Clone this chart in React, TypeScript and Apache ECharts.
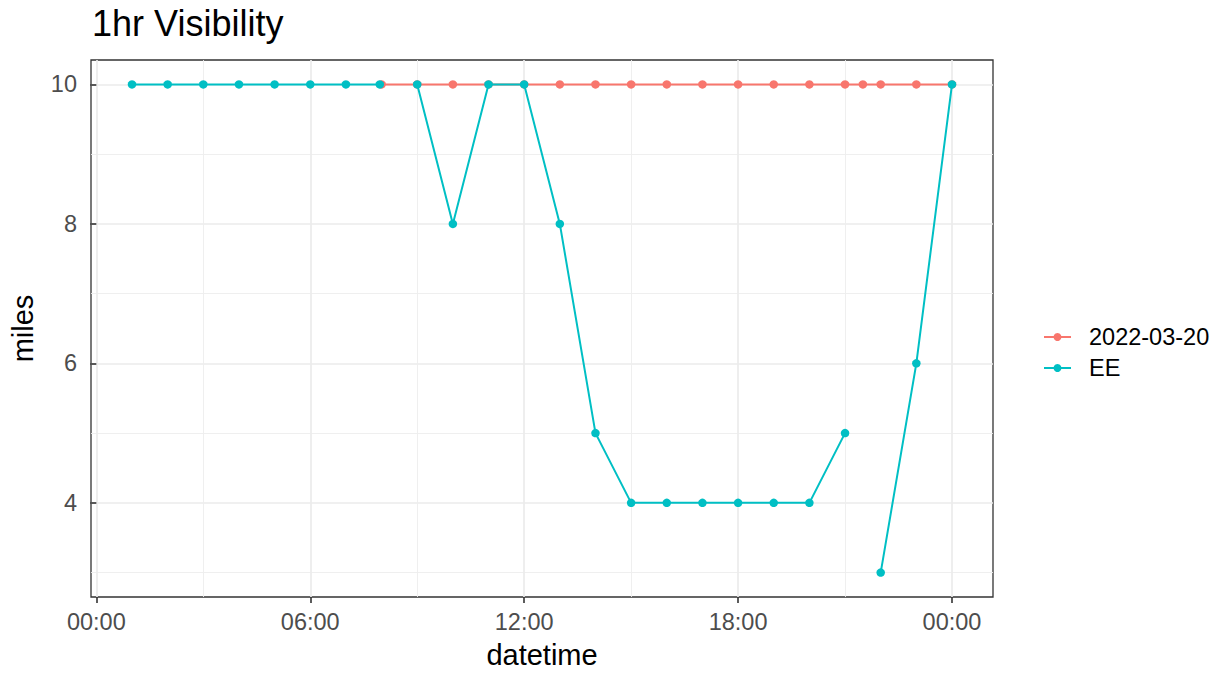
import React, { useEffect, useRef } from "react";
import * as echarts from "echarts";

// ---- data (hours of day) ----
const seriesNames = ["2022-03-20", "EE"];
const hoursDay = [8, 9, 10, 11, 12, 13, 14, 15, 16, 17, 18, 19, 20, 21, 21.5, 22, 23, 24];
const visDay = [10, 10, 10, 10, 10, 10, 10, 10, 10, 10, 10, 10, 10, 10, 10, 10, 10, 10];
const hoursEE = [1, 2, 3, 4, 5, 6, 7, 7.95, 8.5, 9, 10, 11, 12, 13, 14, 15, 16, 17, 18, 19, 20, 21, 21.5, 22, 23, 24];
const visEE: (number | null)[] = [10, 10, 10, 10, 10, 10, 10, 10, null, 10, 8, 10, 10, 8, 5, 4, 4, 4, 4, 4, 4, 5, null, 3, 6, 10];

const xMajorTicks = [0, 6, 12, 18, 24];
const xMinorTicks = [3, 9, 15, 21];
const yMajorTicks = [4, 6, 8, 10];
const yMinorTicks = [3, 5, 7, 9];
const xRange = [-0.15, 25.15];
const yRange = [2.65, 10.35];

const COLORS = ["#F8766D", "#00BFC4"];
const FONT = "'Liberation Sans', Arial, Helvetica, sans-serif";

function fmtHour(v: number): string {
  const h = Math.round(v) % 24;
  return (h < 10 ? "0" : "") + h + ":00";
}

export default function App() {
  const ref = useRef<HTMLDivElement>(null);
  useEffect(() => {
    document.body.style.margin = "0";
    if (!ref.current) return;
    const chart = echarts.init(ref.current, null, { renderer: "svg" });
    const majorGrid = { show: true, lineStyle: { color: "#EBEBEB", width: 1.7 } };
    const minorGrid = { show: true, lineStyle: { color: "#EDEDED", width: 0.9 } };
    const tickStyle = { show: true, length: 6, lineStyle: { color: "#333333", width: 1.6 } };
    const option: any = {
      animation: false,
      backgroundColor: "#FFFFFF",
      title: {
        text: "1hr Visibility",
        left: 92,
        top: 5,
        padding: 0,
        textStyle: { fontSize: 36, fontWeight: "normal", color: "#000", fontFamily: FONT },
      },
      grid: {
        left: 91,
        right: 232,
        top: 60,
        bottom: 77,
        show: true,
        backgroundColor: "#FFFFFF",
        borderColor: "#333333",
        borderWidth: 1.3,
        containLabel: false,
      },
      legend: {
        data: seriesNames,
        orient: "vertical",
        left: 1043,
        top: 325,
        padding: 0,
        itemWidth: 27,
        itemHeight: 10,
        itemGap: 7,
        textStyle: {
          fontSize: 23.5,
          lineHeight: 24,
          color: "#000",
          fontFamily: FONT,
          padding: [0, 0, 0, 13],
        },
      },
      xAxis: [
        {
          type: "value",
          min: xRange[0],
          max: xRange[1],
          name: "datetime",
          nameLocation: "middle",
          nameGap: 43,
          nameTextStyle: { fontSize: 29, color: "#000", fontFamily: FONT },
          axisLine: { show: false },
          axisTick: { ...tickStyle, customValues: xMajorTicks },
          axisLabel: {
            customValues: xMajorTicks,
            formatter: (v: number) => fmtHour(v),
            fontSize: 23.5,
            color: "#4D4D4D",
            fontFamily: FONT,
            margin: 13,
          },
          splitLine: majorGrid,
        },
        {
          type: "value",
          min: xRange[0],
          max: xRange[1],
          position: "top",
          axisLine: { show: false },
          axisTick: { show: false, customValues: xMinorTicks },
          axisLabel: { show: false, customValues: xMinorTicks },
          splitLine: minorGrid,
        },
      ],
      yAxis: [
        {
          type: "value",
          min: yRange[0],
          max: yRange[1],
          name: "miles",
          nameLocation: "middle",
          nameGap: 54,
          nameTextStyle: { fontSize: 29, color: "#000", fontFamily: FONT },
          axisLine: { show: false },
          axisTick: { ...tickStyle, customValues: yMajorTicks },
          axisLabel: {
            customValues: yMajorTicks,
            formatter: (v: number) => String(v),
            fontSize: 23.5,
            color: "#4D4D4D",
            fontFamily: FONT,
            margin: 14,
          },
          splitLine: majorGrid,
        },
        {
          type: "value",
          min: yRange[0],
          max: yRange[1],
          position: "right",
          axisLine: { show: false },
          axisTick: { show: false, customValues: yMinorTicks },
          axisLabel: { show: false, customValues: yMinorTicks },
          splitLine: minorGrid,
        },
      ],
      series: [
        {
          name: seriesNames[0],
          type: "line",
          xAxisIndex: 0,
          yAxisIndex: 0,
          data: hoursDay.map((h, i) => [h, visDay[i]]),
          symbol: "circle",
          symbolSize: 8.5,
          showSymbol: true,
          itemStyle: { color: COLORS[0] },
          lineStyle: { color: COLORS[0], width: 2 },
          z: 2,
        },
        {
          name: seriesNames[1],
          type: "line",
          xAxisIndex: 0,
          yAxisIndex: 0,
          data: hoursEE.map((h, i) => [h, visEE[i] === null ? "-" : visEE[i]]),
          connectNulls: false,
          symbol: "circle",
          symbolSize: 8.5,
          showSymbol: true,
          itemStyle: { color: COLORS[1] },
          lineStyle: { color: COLORS[1], width: 2 },
          z: 3,
        },
      ],
    };
    chart.setOption(option);
    return () => chart.dispose();
  }, []);
  return <div ref={ref} style={{ width: 1225, height: 674 }} />;
}
